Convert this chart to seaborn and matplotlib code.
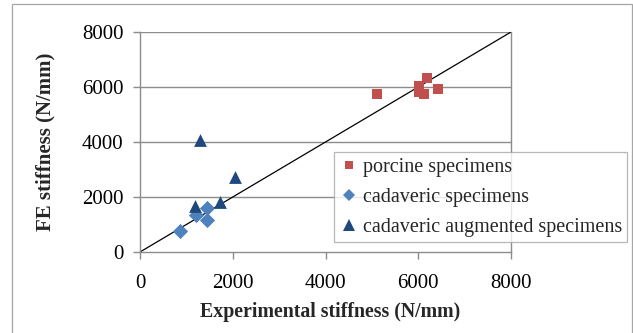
import matplotlib
matplotlib.use("Agg")
import matplotlib.pyplot as plt
import seaborn as sns
import pandas as pd
from matplotlib.lines import Line2D
from matplotlib.patches import Rectangle

# ---- data ----
porcine_x = [5120, 6020, 6180, 6120, 6020, 6430]
porcine_y = [5750, 6050, 6320, 5750, 5830, 5920]
cadaveric_x = [860, 1210, 1450, 1450]
cadaveric_y = [780, 1350, 1590, 1170]
augmented_x = [1190, 1730, 2050, 1300]
augmented_y = [1680, 1810, 2730, 4080]
series_names = ["porcine specimens", "cadaveric specimens", "cadaveric augmented specimens"]
ticks = [0, 2000, 4000, 6000, 8000]
x_label = "Experimental stiffness (N/mm)"
y_label = "FE stiffness (N/mm)"

colors = ["#C0504D", "#4F81BD", "#1F497D"]
markers = ["s", "D", "^"]
sizes = [48, 60, 85]

sns.set_style("white")
plt.rcParams["font.family"] = ["Liberation Serif", "DejaVu Serif"]

W, H = 633, 333
fig = plt.figure(figsize=(W / 100, H / 100), dpi=100)
ax = fig.add_axes([140 / W, 1 - 252 / H, (511 - 140) / W, (252 - 32) / H])

# outer frame
fig.patches.append(Rectangle((12 / W, -0.05), (632 - 12) / W, 1 - 4 / H + 0.05,
                             transform=fig.transFigure, fill=False,
                             edgecolor="#A6A6A6", linewidth=0.9))

# gridlines and reference line
for t in ticks[1:]:
    ax.axhline(t, color="#8C8C8C", linewidth=1.0, zorder=0)
ax.plot([0, 8000], [0, 8000], color="black", linewidth=0.9, zorder=1)

groups = [(porcine_x, porcine_y), (cadaveric_x, cadaveric_y), (augmented_x, augmented_y)]
for (gx, gy), name, c, m, s in zip(groups, series_names, colors, markers, sizes):
    df = pd.DataFrame({"x": gx, "y": gy})
    sns.scatterplot(data=df, x="x", y="y", ax=ax, color=c, marker=m, s=s,
                    linewidth=0, zorder=3, legend=False)

ax.set_xlim(0, 8000)
ax.set_ylim(0, 8000)
ax.set_xticks(ticks)
ax.set_yticks(ticks)
ax.set_xlabel("")
ax.set_ylabel("")
for sp in ["left", "bottom", "right"]:
    ax.spines[sp].set_visible(True)
    ax.spines[sp].set_color("#8C8C8C")
    ax.spines[sp].set_linewidth(1.0)
ax.spines["top"].set_visible(False)
ax.tick_params(axis="both", which="major", direction="out", length=5, width=1.0,
               color="#8C8C8C", labelsize=15, labelcolor="black")
ax.tick_params(axis="x", pad=11, bottom=True)
ax.tick_params(axis="y", pad=7, left=True)

fig.text(330 / W, 1 - 312 / H, x_label, ha="center", va="center",
         fontsize=14.3, fontweight="bold")
fig.text(45 / W, 1 - 142 / H, y_label, ha="center", va="center",
         fontsize=15, fontweight="bold", rotation=90)

handles = [Line2D([], [], linestyle="none", marker=m, color=c, markersize=ms,
                  markeredgewidth=0)
           for m, c, ms in zip(markers, colors, [5.5, 6, 8])]
leg = ax.legend(handles, series_names, loc="lower left",
                bbox_to_anchor=(334 / W, 1 - 242 / H), bbox_transform=fig.transFigure,
                frameon=True, fancybox=False, fontsize=14.5, handlelength=1.0,
                handletextpad=0.2, borderpad=0.25, labelspacing=0.55,
                borderaxespad=0)
leg.get_frame().set_edgecolor("#A6A6A6")
leg.get_frame().set_linewidth(0.9)

fig.savefig("out.png", dpi=100)
